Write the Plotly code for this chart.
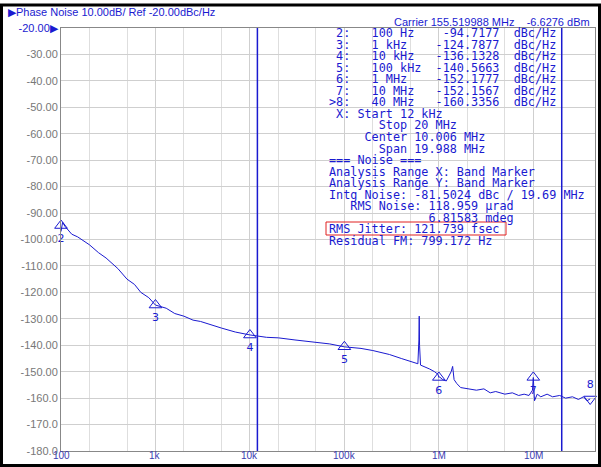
import plotly.graph_objects as go
import numpy as np

freq = [100, 104, 110, 120, 130, 150, 180, 200, 250, 300, 400, 500, 600, 700, 850, 1000, 1300, 1600, 2000, 2500, 3000, 4000, 5000, 7000,
        10000, 15000, 20000, 30000, 50000, 70000, 100000, 150000, 200000, 300000, 400000, 500000, 600000, 615000, 620000, 625000, 640000,
        700000, 800000, 900000, 980000, 1000000, 1020000, 1100000, 1200000, 1350000, 1400000, 1450000, 1550000, 1700000, 2000000,
        2500000, 3000000, 3500000, 4000000, 5000000, 6000000, 7000000, 8000000, 9000000, 9800000, 10000000, 10300000, 10600000,
        11000000, 12000000, 14000000, 16000000, 19000000, 22000000, 26000000, 30000000, 34000000, 37000000, 40000000]
noise = [-97, -93.5, -95, -96.5, -98, -99, -101, -102, -105, -107, -111, -115, -117, -120, -122, -124.8, -126, -128, -129, -130.5, -131, -132.5, -133.5, -135,
         -136.1, -137, -137.2, -138, -138.8, -139.5, -140.6, -141.2, -142, -143.5, -145, -146, -147, -138, -129, -140, -147.5,
         -148, -149, -150, -151, -152.2, -152, -153, -153.5, -150, -148, -153, -154.5, -156, -156.5,
         -157, -156.5, -158, -157.5, -158.5, -158, -159, -158.5, -159, -157, -152.2, -161, -160,
         -158.5, -159.5, -158.5, -159.5, -159, -160, -159.5, -160.5, -159.5, -161, -160.3]

mk_f = [100, 1000, 10000, 100000, 1000000, 10000000]
mk_v = [-94.7177, -124.7877, -136.1328, -140.5663, -152.1777, -152.1567]
mk_n = ["2", "3", "4", "5", "6", "7"]

xt = [100, 1000, 10000, 100000, 1000000, 10000000]
xtxt = ["100", "1k", "10k", "100k", "1M", "10M"]
yt = list(range(-20, -181, -10))
ytxt = ["<span style='color:#1a1ad0'>-20.00▶</span>"] + ["%.2f" % v for v in yt[1:-3]] + ["%.1f" % v for v in yt[-3:]]

blue = "#1a1ad0"
L, R, T, B = 61, 6, 28, 16
W, H = 601, 467
pw, ph = W - L - R, H - T - B
def px(x): return (x - L) / pw
def py(y): return 1 - (y - T) / ph

fig = go.Figure()
for xv in [12000, 20000000]:
    fig.add_trace(go.Scatter(x=[xv, xv], y=[-180, -20], mode="lines", line=dict(color=blue, width=1.5), showlegend=False, hoverinfo="skip"))
fig.add_trace(go.Scatter(x=freq, y=noise, mode="lines", line=dict(color=blue, width=1), showlegend=False))
fig.add_trace(go.Scatter(x=mk_f, y=mk_v, mode="markers+text", text=mk_n, textposition="bottom center",
                         marker=dict(symbol="triangle-up-open", size=11, color=blue, line=dict(width=1)),
                         textfont=dict(color=blue, size=11, family="DejaVu Sans"), showlegend=False, cliponaxis=False))
fig.add_trace(go.Scatter(x=[40000000], y=[-160.3356], mode="markers+text", text=["8"], textposition="top center",
                         marker=dict(symbol="triangle-down-open", size=11, color=blue), cliponaxis=False,
                         textfont=dict(color=blue, size=11, family="DejaVu Sans"), showlegend=False))

lines = [" 2:   100 Hz    -94.7177  dBc/Hz",
         " 3:   1 kHz    -124.7877  dBc/Hz",
         " 4:   10 kHz   -136.1328  dBc/Hz",
         " 5:   100 kHz  -140.5663  dBc/Hz",
         " 6:   1 MHz    -152.1777  dBc/Hz",
         " 7:   10 MHz   -152.1567  dBc/Hz",
         ">8:   40 MHz   -160.3356  dBc/Hz",
         " X: Start 12 kHz",
         "       Stop 20 MHz",
         "     Center 10.006 MHz",
         "       Span 19.988 MHz",
         "=== Noise ===",
         "Analysis Range X: Band Marker",
         "Analysis Range Y: Band Marker",
         "Intg Noise: -81.5024 dBc / 19.69 MHz",
         "   RMS Noise: 118.959 µrad",
         "              6.81583 mdeg",
         "RMS Jitter: 121.739 fsec",
         "Residual FM: 799.172 Hz"]
for i, t in enumerate(lines):
    fig.add_annotation(text=t.replace(" ", "&nbsp;"), xref="paper", yref="paper", x=px(327),
                       y=py(33 + i * 11.55), xanchor="left", yanchor="middle", showarrow=False,
                       font=dict(family="DejaVu Sans Mono", size=11.8, color=blue))
fig.add_shape(type="rect", xref="paper", yref="paper", x0=px(326), x1=px(506),
              y0=py(235), y1=py(222), line=dict(color="#e02020", width=1))

for xv, t in zip(xt, xtxt):
    fig.add_annotation(text=t, x=np.log10(xv), y=-180, xref="x", yref="y", yanchor="middle", yshift=-4,
                       showarrow=False, font=dict(color="#3a3ab0", size=10, family="Liberation Sans"))

fig.add_annotation(text="Carrier 155.519988 MHz    -6.6276 dBm", xref="paper", yref="paper", x=px(592), y=py(22),
                   xanchor="right", yanchor="middle", showarrow=False, font=dict(family="Liberation Sans", size=11, color=blue))
fig.add_annotation(text="▶Phase Noise 10.00dB/ Ref -20.00dBc/Hz", xref="paper", yref="paper", x=px(6), y=py(12),
                   xanchor="left", yanchor="middle", showarrow=False, font=dict(family="Liberation Sans", size=11, color=blue))
fig.add_shape(type="rect", xref="paper", yref="paper", x0=px(1.5), x1=px(599.5), y0=py(465.5), y1=py(5),
              line=dict(color="black", width=3))

fig.update_xaxes(type="log", range=[2, np.log10(4.5e7)], tickvals=xt, showticklabels=False,
                 showgrid=True, gridcolor="#cfcfcf", gridwidth=1, minor=dict(showgrid=True, gridcolor="#dedede", ticks=""),
                 zeroline=False, showline=True, linecolor="#888", mirror=True, automargin=False)
fig.update_yaxes(range=[-180, -20], tickvals=yt, ticktext=ytxt, tickfont=dict(color="#777", size=11, family="Liberation Sans"),
                 showgrid=True, gridcolor="#cfcfcf", zeroline=False, showline=True, linecolor="#888", mirror=True, automargin=False,
                 ticklabelstandoff=0)
fig.update_layout(width=W, height=H, margin=dict(l=L, r=R, t=T, b=B), plot_bgcolor="white", paper_bgcolor="white")
fig.write_html("out.html", config={"displayModeBar": False},
               post_script="document.body.style.margin='0';document.body.style.padding='0';document.body.style.overflow='hidden';")
